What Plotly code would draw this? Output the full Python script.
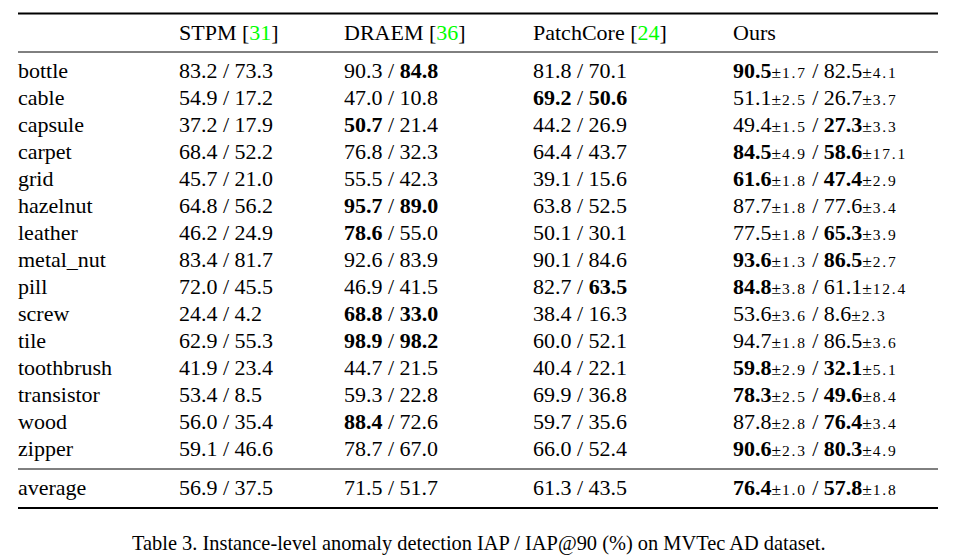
import plotly.graph_objects as go

categories = ["bottle", "cable", "capsule", "carpet", "grid", "hazelnut", "leather",
              "metal_nut", "pill", "screw", "tile", "toothbrush", "transistor", "wood",
              "zipper"]
average_label = "average"

methods = ["STPM", "DRAEM", "PatchCore", "Ours"]
method_refs = ["31", "36", "24", None]

stpm_iap = [83.2, 54.9, 37.2, 68.4, 45.7, 64.8, 46.2, 83.4, 72.0, 24.4, 62.9, 41.9, 53.4, 56.0, 59.1]
stpm_iap90 = [73.3, 17.2, 17.9, 52.2, 21.0, 56.2, 24.9, 81.7, 45.5, 4.2, 55.3, 23.4, 8.5, 35.4, 46.6]
draem_iap = [90.3, 47.0, 50.7, 76.8, 55.5, 95.7, 78.6, 92.6, 46.9, 68.8, 98.9, 44.7, 59.3, 88.4, 78.7]
draem_iap90 = [84.8, 10.8, 21.4, 32.3, 42.3, 89.0, 55.0, 83.9, 41.5, 33.0, 98.2, 21.5, 22.8, 72.6, 67.0]
patchcore_iap = [81.8, 69.2, 44.2, 64.4, 39.1, 63.8, 50.1, 90.1, 82.7, 38.4, 60.0, 40.4, 69.9, 59.7, 66.0]
patchcore_iap90 = [70.1, 50.6, 26.9, 43.7, 15.6, 52.5, 30.1, 84.6, 63.5, 16.3, 52.1, 22.1, 36.8, 35.6, 52.4]
ours_iap = [90.5, 51.1, 49.4, 84.5, 61.6, 87.7, 77.5, 93.6, 84.8, 53.6, 94.7, 59.8, 78.3, 87.8, 90.6]
ours_iap_std = [1.7, 2.5, 1.5, 4.9, 1.8, 1.8, 1.8, 1.3, 3.8, 3.6, 1.8, 2.9, 2.5, 2.8, 2.3]
ours_iap90 = [82.5, 26.7, 27.3, 58.6, 47.4, 77.6, 65.3, 86.5, 61.1, 8.6, 86.5, 32.1, 49.6, 76.4, 80.3]
ours_iap90_std = [4.1, 3.7, 3.3, 17.1, 2.9, 3.4, 3.9, 2.7, 12.4, 2.3, 3.6, 5.1, 8.4, 3.4, 4.9]

avg_iap = [56.9, 71.5, 61.3, 76.4]
avg_iap90 = [37.5, 51.7, 43.5, 57.8]
avg_ours_std = [1.0, 1.8]

caption = "Table 3. Instance-level anomaly detection IAP / IAP@90 (%) on MVTec AD dataset."

# ---- styling / layout (pixel-space axes) ----
W, H = 953, 559
FONT = "Liberation Serif, Times New Roman, serif"
FS = 22
GREEN = "#00ff00"
col_x = [16, 177, 342, 531, 731]
header_y = 32.5
row_y0, row_dy = 70.5, 27
avg_y = 487.5
caption_y = 543
line_x0, line_x1 = 18, 938


def fmt(v, bold, std=None):
    s = f"{v:.1f}"
    if bold:
        s = f"<b>{s}</b>"
    if std is not None:
        s += ("<span style='font-size:17.5px;letter-spacing:0.8px'>±</span>"
              + f"<span style='font-size:15.5px;letter-spacing:1.8px'>{std:.1f}</span>")
    return s


annotations = []


def add_text(x, y, text, size=FS, anchor="left"):
    annotations.append(dict(x=x, y=y, xref="x", yref="y", text=text, showarrow=False,
                            xanchor=anchor, yanchor="middle",
                            font=dict(family=FONT, size=size, color="black")))


# header
for m, ref, x in zip(methods, method_refs, col_x[1:]):
    t = m if ref is None else f"{m} [<span style='color:{GREEN}'>{ref}</span>]"
    add_text(x, header_y, t)

rows = []
for i, c in enumerate(categories):
    iaps = [stpm_iap[i], draem_iap[i], patchcore_iap[i], ours_iap[i]]
    iap90s = [stpm_iap90[i], draem_iap90[i], patchcore_iap90[i], ours_iap90[i]]
    rows.append((c, row_y0 + i * row_dy, iaps, iap90s, (ours_iap_std[i], ours_iap90_std[i])))
rows.append((average_label, avg_y, avg_iap, avg_iap90, tuple(avg_ours_std)))

for label, y, iaps, iap90s, stds in rows:
    add_text(col_x[0], y, label)
    b1, b2 = max(iaps), max(iap90s)
    for j in range(4):
        is_ours = j == 3
        a = fmt(iaps[j], iaps[j] == b1, stds[0] if is_ours else None)
        b = fmt(iap90s[j], iap90s[j] == b2, stds[1] if is_ours else None)
        add_text(col_x[j + 1], y, f"{a} / {b}")

add_text(W / 2 + 2, caption_y, caption, size=20.4, anchor="center")

shapes = [
    dict(type="line", xref="x", yref="y", x0=line_x0, x1=line_x1, y0=13.5, y1=13.5,
         line=dict(color="black", width=2)),
    dict(type="line", xref="x", yref="y", x0=line_x0, x1=line_x1, y0=52, y1=52,
         line=dict(color="black", width=1)),
    dict(type="line", xref="x", yref="y", x0=line_x0, x1=line_x1, y0=469, y1=469,
         line=dict(color="black", width=1)),
    dict(type="line", xref="x", yref="y", x0=line_x0, x1=line_x1, y0=508, y1=508,
         line=dict(color="black", width=2)),
]

fig = go.Figure()
fig.add_trace(go.Scatter(x=[0, W], y=[0, H], mode="markers", marker=dict(opacity=0),
                         hoverinfo="skip", showlegend=False))
fig.update_layout(
    width=W, height=H, margin=dict(l=0, r=0, t=0, b=0),
    paper_bgcolor="white", plot_bgcolor="white",
    xaxis=dict(range=[0, W], visible=False, fixedrange=True),
    yaxis=dict(range=[H, 0], visible=False, fixedrange=True),
    annotations=annotations, shapes=shapes, showlegend=False,
)
fig.write_html("out.html", config={"displayModeBar": False},
               post_script="document.body.style.margin='0';document.body.style.overflow='hidden';")
